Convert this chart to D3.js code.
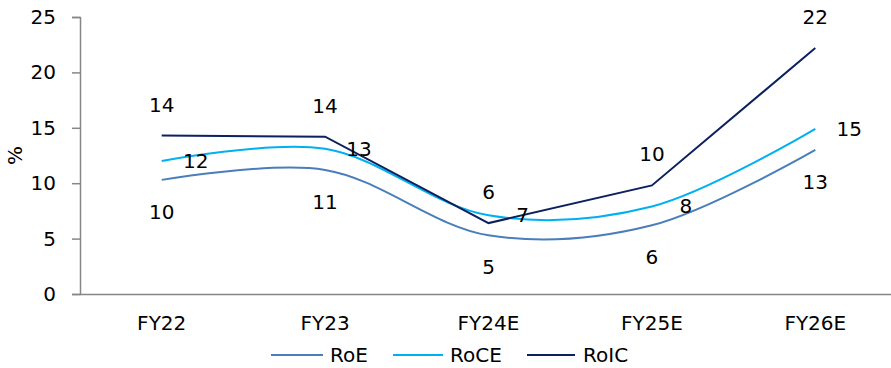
<!DOCTYPE html>
<html>
<head>
<meta charset="utf-8">
<script src="https://cdn.jsdelivr.net/npm/d3@7"></script>
<style>
  html, body { margin: 0; padding: 0; background: #fff; }
  svg { display: block; }
  text { font-family: "DejaVu Sans", Verdana, sans-serif; fill: #000; }
</style>
</head>
<body>
<svg id="chart" width="891" height="368"></svg>
<script>
// Return ratios by fiscal year (%)
const years = ["FY22", "FY23", "FY24E", "FY25E", "FY26E"];
const roe  = [10.3, 11.2, 5.3, 6.2, 13.0];
const roce = [12.0, 13.1, 7.1, 7.9, 14.9];
const roic = [14.3, 14.2, 6.4, 9.8, 22.2];
const yTicks = [0, 5, 10, 15, 20, 25];

const series = [
  { name: "RoE",  values: roe,  color: "#4a7ebb", smooth: true,  labelPos: "below" },
  { name: "RoCE", values: roce, color: "#00b0f0", smooth: true,  labelPos: "right" },
  { name: "RoIC", values: roic, color: "#0c215e", smooth: false, labelPos: "above" }
];

const svg = d3.select("#chart");
const plotLeft = 80, plotRight = 897, plotTop = 17, plotBottom = 294;
const fontSize = "20px";

const x = d3.scaleBand().domain(years).range([plotLeft, plotRight]);
const y = d3.scaleLinear().domain([0, 25]).range([plotBottom, plotTop]);
const cx = d => x(d) + x.bandwidth() / 2;

// Y axis
const yAxis = svg.append("g")
  .attr("transform", `translate(${plotLeft},0)`)
  .call(d3.axisLeft(y).tickValues(yTicks).tickSize(8).tickPadding(16).tickFormat(d3.format("d")));
yAxis.select(".domain").attr("stroke", "#868686").attr("stroke-width", 1.5);
yAxis.selectAll(".tick line").attr("stroke", "#868686").attr("stroke-width", 1.5);
yAxis.selectAll(".tick text").style("font-size", fontSize).style("font-family", "DejaVu Sans, Verdana, sans-serif").attr("fill", "#000");

// X axis
const xAxis = svg.append("g")
  .attr("transform", `translate(0,${plotBottom})`)
  .call(d3.axisBottom(x).tickSize(0).tickPadding(22));
xAxis.select(".domain").attr("stroke", "#868686").attr("stroke-width", 1.5);
xAxis.selectAll(".tick text").style("font-size", fontSize).style("font-family", "DejaVu Sans, Verdana, sans-serif").attr("fill", "#000");

// Y axis title
svg.append("text")
  .attr("transform", `translate(22,${(plotTop + plotBottom) / 2}) rotate(-90)`)
  .attr("text-anchor", "middle")
  .style("font-size", fontSize)
  .text("%");

// Lines
series.forEach(s => {
  const line = d3.line()
    .x((d, i) => cx(years[i]))
    .y(d => y(d))
    .curve(s.smooth ? d3.curveCatmullRom.alpha(0.5) : d3.curveLinear);
  svg.append("path")
    .datum(s.values)
    .attr("fill", "none")
    .attr("stroke", s.color)
    .attr("stroke-width", 2)
    .attr("d", line);
});

// Data labels
series.forEach(s => {
  svg.append("g").selectAll("text")
    .data(s.values)
    .join("text")
    .attr("x", (d, i) => cx(years[i]) + (s.labelPos === "right" ? 34 : 0))
    .attr("y", d => y(d) + (s.labelPos === "below" ? 32 : s.labelPos === "above" ? -31 : 0))
    .attr("dy", "0.35em")
    .attr("text-anchor", "middle")
    .style("font-size", fontSize)
    .text(d => d3.format(".0f")(d));
});

// Legend
const legendItems = [
  { name: "RoE",  x1: 271, x2: 323, tx: 330 },
  { name: "RoCE", x1: 393, x2: 443, tx: 450 },
  { name: "RoIC", x1: 527, x2: 575, tx: 583 }
];
const legend = svg.append("g");
legendItems.forEach((it, i) => {
  legend.append("line")
    .attr("x1", it.x1).attr("x2", it.x2)
    .attr("y1", 355).attr("y2", 355)
    .attr("stroke", series[i].color).attr("stroke-width", 2);
  legend.append("text")
    .attr("x", it.tx).attr("y", 355).attr("dy", "0.35em")
    .style("font-size", fontSize)
    .text(it.name);
});
</script>
</body>
</html>
